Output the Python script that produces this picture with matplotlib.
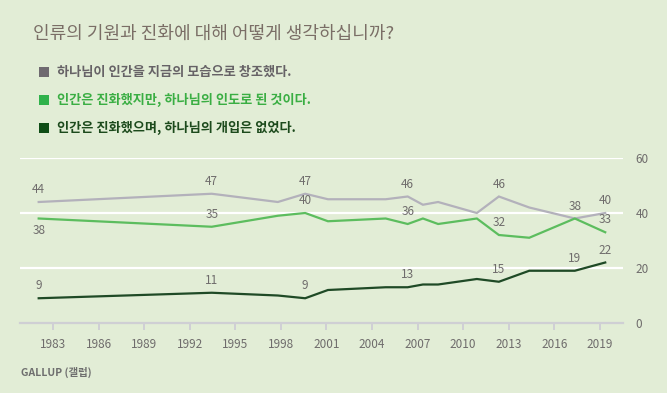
import matplotlib
matplotlib.use("Agg")
import matplotlib.pyplot as plt
from matplotlib.patches import Rectangle

plt.rcParams['font.family'] = ['Noto Sans CJK KR', 'DejaVu Sans']

# 조사 시점 (그림에서 읽은 위치)
years = [1982.06, 1993.45, 1997.8, 1999.6, 2001.1, 2004.9, 2006.35, 2007.35,
         2008.35, 2010.9, 2012.35, 2014.35, 2017.35, 2019.35]
creation = [44, 47, 44, 47, 45, 45, 46, 43, 44, 40, 46, 42, 38, 40]
guided = [38, 35, 39, 40, 37, 38, 36, 38, 36, 38, 32, 31, 38, 33]
secular = [9, 11, 10, 9, 12, 13, 13, 14, 14, 16, 15, 19, 19, 22]

xticks = [1983, 1986, 1989, 1992, 1995, 1998, 2001, 2004, 2007, 2010, 2013, 2016, 2019]
yticks = [0, 20, 40, 60]

title = "인류의 기원과 진화에 대해 어떻게 생각하십니까?"
legend_labels = ["하나님이 인간을 지금의 모습으로 창조했다.",
                 "인간은 진화했지만, 하나님의 인도로 된 것이다.",
                 "인간은 진화했으며, 하나님의 개입은 없었다."]

# 라벨 붙은 점 (인덱스, 위/아래)
label_creation = [(0, 1), (1, 1), (3, 1), (6, 1), (10, 1), (13, 1)]
label_guided = [(0, -1), (1, 1), (3, 1), (6, 1), (10, 1), (12, 1), (13, 1)]
label_secular = [(0, 1), (1, 1), (3, 1), (6, 1), (10, 1), (12, 1), (13, 1)]

bg = '#e2edd6'
c_gray = '#b3b1bb'
c_green = '#5cbd5e'
c_dark = '#1f4a26'
txt = '#6f6c6c'

W, H = 667, 393
fig = plt.figure(figsize=(W / 100, H / 100), dpi=100, facecolor=bg)
ax = fig.add_axes([20 / W, (H - 323) / H, 603 / W, 165 / H])
ax.set_facecolor(bg)

ax.set_xlim(1980.83, 2020.52)
ax.set_ylim(0, 60)

for y in [20, 40, 60]:
    ax.axhline(y, color='white', lw=1.6, zorder=1)

ax.plot(years, creation, color=c_gray, lw=1.6, zorder=3, solid_joinstyle='miter')
ax.plot(years, guided, color=c_green, lw=1.6, zorder=3, solid_joinstyle='miter')
ax.plot(years, secular, color=c_dark, lw=1.6, zorder=4, solid_joinstyle='miter')

def put_labels(vals, items):
    for i, d in items:
        ax.annotate(str(vals[i]), (years[i], vals[i]), xytext=(0, 9 * d),
                    textcoords='offset points', ha='center', va='center',
                    fontsize=8.5, color=txt, zorder=5)

put_labels(creation, label_creation)
put_labels(guided, label_guided)
put_labels(secular, label_secular)

for s in ['top', 'left', 'right']:
    ax.spines[s].set_visible(False)
ax.spines['bottom'].set_color('#cfcfd4')
ax.spines['bottom'].set_linewidth(1.6)

ax.set_xticks(xticks)
ax.set_xticklabels([str(x) for x in xticks])
ax.tick_params(axis='x', length=5, width=1.4, color='#cfcfd4', labelsize=8.5,
               labelcolor=txt, pad=6)
ax.yaxis.tick_right()
ax.set_yticks(yticks)
ax.tick_params(axis='y', length=0, labelsize=8.5, labelcolor=txt, pad=9)

# 제목
fig.text(33 / W, 1 - 34 / H, title, fontsize=13, color='#7a6e66',
         ha='left', va='center', fontweight='medium')

# 범례
sq_colors = ['#6f6a70', '#2fb24b', '#0f4d16']
tx_colors = ['#666266', '#3aae43', '#1c4a1c']
rows = [72, 100, 128]
for lab, sc, tc, r in zip(legend_labels, sq_colors, tx_colors, rows):
    fig.add_artist(Rectangle((39 / W, 1 - (r + 5) / H), 10 / W, 10 / H,
                             transform=fig.transFigure, color=sc, lw=0))
    fig.text(57 / W, 1 - r / H, lab, fontsize=9.5, color=tc, ha='left',
             va='center', fontweight='bold')

fig.text(21 / W, 1 - 372 / H, "GALLUP (갤럽)", fontsize=7.5, color='#6e6e6e',
         ha='left', va='center', fontweight='bold')

fig.savefig('out.png', dpi=100, facecolor=bg)
